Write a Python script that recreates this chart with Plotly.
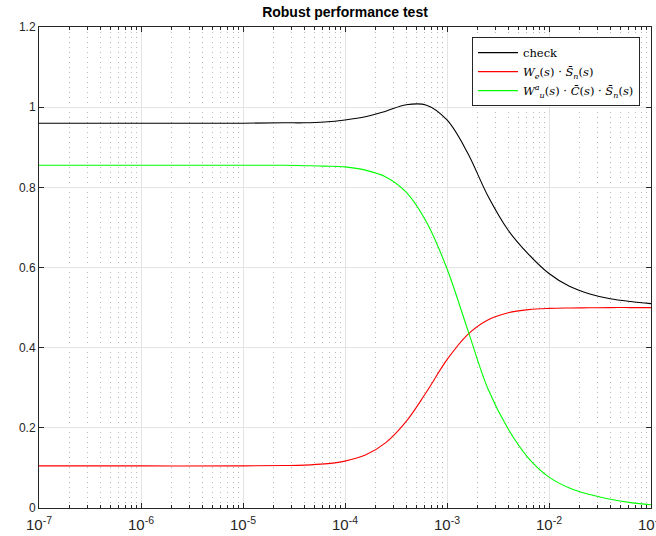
import plotly.graph_objects as go

# Frequencies (read positions) and magnitudes
freq = [1e-7, 1e-6, 1e-5, 10**-4.6, 10**-4.4, 10**-4.2, 1e-4, 10**-3.8, 10**-3.6,
        10**-3.4, 10**-3.2, 1e-3, 10**-2.8, 10**-2.6, 10**-2.4, 10**-2.2, 1e-2,
        10**-1.8, 10**-1.6, 10**-1.4, 10**-1.2, 1e-1]

check = [0.960, 0.960, 0.960, 0.961, 0.961, 0.963, 0.968, 0.976, 0.990,
         1.006, 1.005, 0.968, 0.887, 0.779, 0.693, 0.633, 0.585,
         0.553, 0.534, 0.522, 0.515, 0.510]

we_sn = [0.105, 0.105, 0.105, 0.106, 0.107, 0.110, 0.117, 0.132, 0.163,
         0.216, 0.290, 0.370, 0.432, 0.469, 0.487, 0.495, 0.498,
         0.499, 0.4995, 0.500, 0.500, 0.500]

wu_c_sn = [0.855, 0.855, 0.855, 0.855, 0.854, 0.853, 0.851, 0.843, 0.826,
           0.788, 0.713, 0.597, 0.447, 0.298, 0.197, 0.124, 0.077,
           0.050, 0.0336, 0.022, 0.0135, 0.008]

series_names = [
    "check",
    "<i>W<sub>e</sub></i>(<i>s</i>) · <i>S̄<sub>n</sub></i>(<i>s</i>)",
    "<i>W</i><sup><i>a</i></sup><sub><i>u</i></sub>(<i>s</i>) · <i>C̄</i>(<i>s</i>) · <i>S̄<sub>n</sub></i>(<i>s</i>)",
]
series_colors = ["#000000", "#ff0000", "#00ff00"]

x_tickvals = [1e-7, 1e-6, 1e-5, 1e-4, 1e-3, 1e-2, 1e-1]
x_ticktext = ["10<sup>-7</sup>", "10<sup>-6</sup>", "10<sup>-5</sup>", "10<sup>-4</sup>",
              "10<sup>-3</sup>", "10<sup>-2</sup>", "10<sup>-1</sup>"]
y_tickvals = [0, 0.2, 0.4, 0.6, 0.8, 1.0, 1.2]
y_ticktext = ["0", "0.2", "0.4", "0.6", "0.8", "1", "1.2"]

fig = go.Figure()
for name, ys, col in zip(series_names, [check, we_sn, wu_c_sn], series_colors):
    fig.add_trace(go.Scatter(x=freq, y=ys, mode="lines", name=name,
                             line=dict(color=col, width=1.1, shape="spline", smoothing=1.0)))

axis_col = "#262626"
fig.update_layout(
    width=656, height=536,
    margin=dict(l=39, r=5, t=27, b=28, autoexpand=False),
    paper_bgcolor="white", plot_bgcolor="white",
    font=dict(family="Liberation Sans, Arial, sans-serif", size=12, color=axis_col),
    title=dict(text="<b>Robust performance test</b>", x=(39 + 651) / 2 / 656, xanchor="center",
               y=1 - 12 / 536, yanchor="middle", yref="container",
               font=dict(size=14, color="#000000")),
    showlegend=True,
    legend=dict(x=0.982, y=0.979, xanchor="right", yanchor="top",
                bgcolor="white", bordercolor=axis_col, borderwidth=1,
                font=dict(family="DejaVu Serif, Liberation Serif, serif", size=11.5, color="#000000"),
                itemwidth=40, tracegroupgap=0),
)
fig.update_xaxes(
    type="log", range=[-7, -0.99999], automargin=False,
    tickvals=x_tickvals, ticktext=x_ticktext,
    tickfont=dict(size=15), ticklabeloverflow="allow", ticklabelstandoff=3,
    showline=True, linecolor=axis_col, linewidth=1, mirror="ticks",
    ticks="inside", ticklen=5, tickcolor=axis_col,
    showgrid=True, gridcolor="#e3e3e3", gridwidth=1,
    zeroline=False,
    minor=dict(dtick="D1", ticks="inside", ticklen=3, tickcolor=axis_col,
               showgrid=True, gridcolor="#b8b8b8", griddash="1px,4px", gridwidth=1),
)
fig.update_yaxes(
    range=[0, 1.2], automargin=False,
    tickvals=y_tickvals, ticktext=y_ticktext,
    showline=True, linecolor=axis_col, linewidth=1, mirror="ticks",
    ticks="inside", ticklen=5, tickcolor=axis_col,
    showgrid=True, gridcolor="#e3e3e3", gridwidth=1,
    zeroline=False,
)

fig.write_html("out.html")
